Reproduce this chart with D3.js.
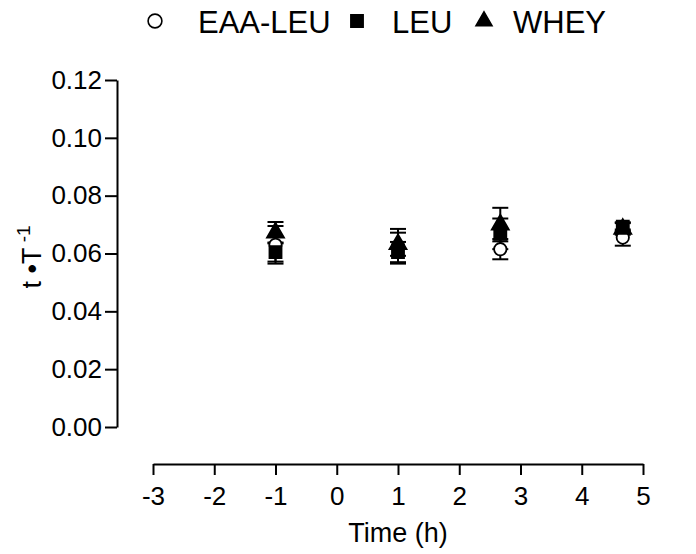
<!DOCTYPE html>
<html><head><meta charset="utf-8">
<script src="https://cdn.jsdelivr.net/npm/d3@7"></script>
<style>body{margin:0;background:#fff}svg{display:block}text{font-family:"Liberation Sans",Arial,sans-serif;fill:#000}</style>
</head><body>
<svg id="c" width="696" height="554"></svg>
<script>
const times = [-1, 1, 2.67, 4.67];
const seriesNames = ["EAA-LEU", "LEU", "WHEY"];
const eaaMean = [0.063, 0.0625, 0.0615, 0.0655];
const eaaSD   = [0.0065, 0.006, 0.0035, 0.0028];
const leuMean = [0.0605, 0.0605, 0.0668, 0.0693];
const leuSD   = [0.0033, 0.0035, 0.0053, 0.0015];
const wheyMean = [0.0672, 0.0632, 0.0700, 0.0685];
const wheySD   = [0.0037, 0.0040, 0.0058, 0.0020];
const xTicks = [-3, -2, -1, 0, 1, 2, 3, 4, 5];
const yTicks = [0, 0.02, 0.04, 0.06, 0.08, 0.10, 0.12];

const svg = d3.select("#c");
const x = d3.scaleLinear().domain([-3, 5]).range([153, 643]);
const y = d3.scaleLinear().domain([0, 0.12]).range([427, 80]);

// axes
const xAxis = svg.append("g").attr("transform", "translate(0,464)")
  .call(d3.axisBottom(x).tickValues(xTicks).tickFormat(d => String(d)).tickSize(11).tickSizeOuter(0));
const yAxis = svg.append("g").attr("transform", "translate(117,0)")
  .call(d3.axisLeft(y).tickValues(yTicks).tickFormat(d3.format(".2f")).tickSize(12).tickSizeOuter(0));
[xAxis, yAxis].forEach(g => {
  g.selectAll("path,line").attr("stroke", "#000").attr("stroke-width", 2);
  g.selectAll("text").style("font-size", "26px").attr("fill", "#000");
});
xAxis.selectAll("text").attr("dy", "0").attr("y", 41);
yAxis.selectAll("text").attr("x", -15);

// axis titles
svg.append("text").attr("x", 398).attr("y", 542).attr("text-anchor", "middle")
  .style("font-size", "27px").text("Time (h)");
const yt = svg.append("text").attr("transform", "translate(41,257) rotate(-90)")
  .attr("text-anchor", "middle").style("font-size", "27px");
yt.append("tspan").text("t \u2022T");
yt.append("tspan").attr("dy", -11).style("font-size", "19px").text(" -1");

const series = [
  {name: seriesNames[0], mean: eaaMean, sd: eaaSD, sym: d3.symbolCircle, size: 120, fill: "#fff"},
  {name: seriesNames[1], mean: leuMean, sd: leuSD, sym: d3.symbolSquare, size: 145, fill: "#000"},
  {name: seriesNames[2], mean: wheyMean, sd: wheySD, sym: d3.symbolTriangle, size: 125, fill: "#000"}
];

series.forEach(s => {
  const g = svg.append("g");
  times.forEach((t, i) => {
    const cx = x(t), m = s.mean[i], e = s.sd[i];
    g.append("line").attr("x1", cx).attr("x2", cx).attr("y1", y(m + e)).attr("y2", y(m - e))
      .attr("stroke", "#000").attr("stroke-width", 2);
    [m + e, m - e].forEach(v => g.append("line").attr("x1", cx - 8).attr("x2", cx + 8)
      .attr("y1", y(v)).attr("y2", y(v)).attr("stroke", "#000").attr("stroke-width", 2));
  });
});
series.forEach(s => {
  svg.append("g").selectAll("path").data(times).join("path")
    .attr("transform", (t, i) => `translate(${x(t)},${y(s.mean[i])})`)
    .attr("d", d3.symbol().type(s.sym).size(s.size))
    .attr("fill", s.fill).attr("stroke", "#000").attr("stroke-width", 1.8);
});

// legend
const leg = svg.append("g");
const legItems = [
  {sym: d3.symbolCircle, fill: "#fff", sx: 155, tx: 198, size: 150},
  {sym: d3.symbolSquare, fill: "#000", sx: 357, tx: 392, size: 150},
  {sym: d3.symbolTriangle, fill: "#000", sx: 484, tx: 513, size: 110}
];
legItems.forEach((it, i) => {
  leg.append("path").attr("transform", `translate(${it.sx},21)`)
    .attr("d", d3.symbol().type(it.sym).size(it.size))
    .attr("fill", it.fill).attr("stroke", "#000").attr("stroke-width", 1.6);
  leg.append("text").attr("x", it.tx).attr("y", 33).style("font-size", "31px").text(seriesNames[i]);
});
</script>
</body></html>
